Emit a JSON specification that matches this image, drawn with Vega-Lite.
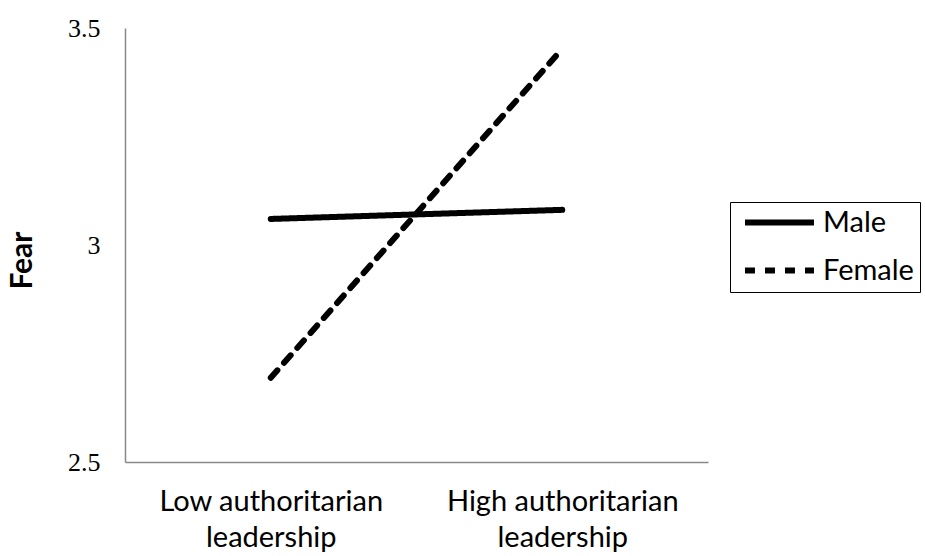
{
  "$schema": "https://vega.github.io/schema/vega-lite/v6.json",
  "width": 583,
  "height": 434,
  "autosize": {"type": "none"},
  "padding": {"left": 125, "top": 28, "right": 217, "bottom": 94},
  "background": "white",
  "config": {"view": {"stroke": null}},
  "data": {
    "values": [
      {"leadership": "Low authoritarian leadership", "sex": "Male", "fear": 3.06},
      {"leadership": "High authoritarian leadership", "sex": "Male", "fear": 3.081},
      {"leadership": "Low authoritarian leadership", "sex": "Female", "fear": 2.694},
      {"leadership": "High authoritarian leadership", "sex": "Female", "fear": 3.452}
    ]
  },
  "mark": {"type": "line", "color": "black", "strokeWidth": 6, "strokeCap": "round"},
  "encoding": {
    "x": {
      "field": "leadership",
      "type": "nominal",
      "sort": ["Low authoritarian leadership", "High authoritarian leadership"],
      "scale": {"type": "point", "padding": 0.5},
      "axis": {
        "title": null,
        "labelAngle": 0,
        "ticks": false,
        "grid": false,
        "domainColor": "#898989",
        "domainWidth": 1.5,
        "labelFont": "Lato",
        "labelFontSize": 29,
        "labelColor": "black",
        "labelLimit": 500,
        "labelPadding": 25,
        "labelLineHeight": 36,
        "labelExpr": "[slice(datum.label, 0, lastindexof(datum.label, ' ')), slice(datum.label, lastindexof(datum.label, ' ') + 1)]"
      }
    },
    "y": {
      "field": "fear",
      "type": "quantitative",
      "scale": {"domain": [2.5, 3.5], "zero": false, "nice": false},
      "axis": {
        "values": [2.5, 3, 3.5],
        "format": "~g",
        "ticks": false,
        "grid": false,
        "domainColor": "#898989",
        "domainWidth": 1.5,
        "labelFont": "Liberation Serif",
        "labelFontSize": 26,
        "labelColor": "black",
        "labelPadding": 25,
        "title": "Fear",
        "titleFont": "Lato",
        "titleFontWeight": "bold",
        "titleFontSize": 30,
        "titleColor": "black",
        "titlePadding": 30,
        "titleY": 232
      }
    },
    "strokeDash": {
      "field": "sex",
      "type": "nominal",
      "sort": ["Male", "Female"],
      "scale": {"domain": ["Male", "Female"], "range": [[1, 0], [10, 10]]},
      "legend": {
        "orient": "none",
        "legendX": 605,
        "legendY": 174,
        "title": null,
        "symbolType": "M-0.48,0H5.52",
        "symbolSize": 529,
        "symbolStrokeWidth": 6,
        "symbolStrokeColor": "black",
        "symbolFillColor": "transparent",
        "labelFont": "Lato",
        "labelFontSize": 29,
        "labelColor": "black",
        "labelOffset": 58,
        "rowPadding": 18,
        "strokeColor": "black",
        "fillColor": "white",
        "padding": 6,
        "cornerRadius": 0
      }
    }
  }
}
